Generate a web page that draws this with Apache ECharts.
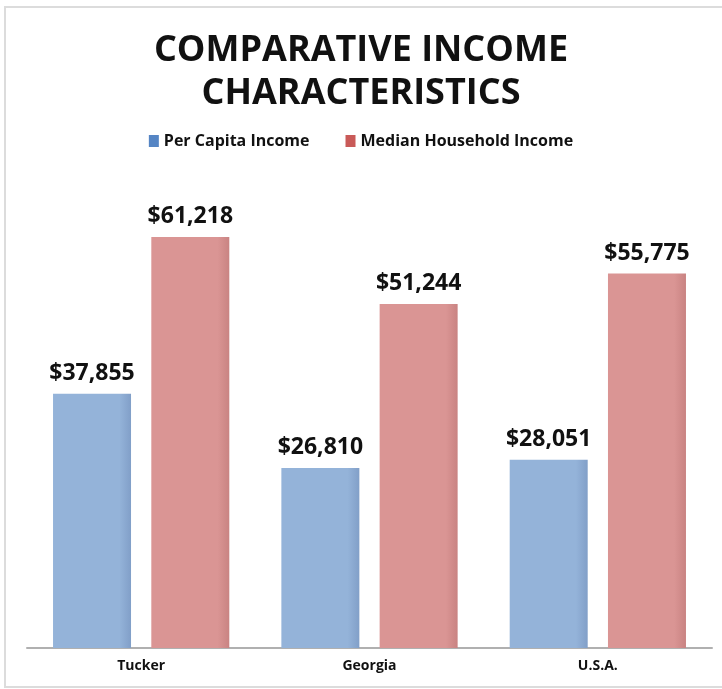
<!DOCTYPE html>
<html>
<head>
<meta charset="utf-8">
<title>Comparative Income Characteristics</title>
<script src="https://cdn.jsdelivr.net/npm/echarts@6/dist/echarts.min.js"></script>
<style>
  html, body { margin: 0; padding: 0; background: #fff; }
  #chart { width: 722px; height: 689px; }
</style>
</head>
<body>
<div id="chart"></div>
<script>
const categories = ['Tucker', 'Georgia', 'U.S.A.'];
const perCapitaIncome = [37855, 26810, 28051];
const medianHouseholdIncome = [61218, 51244, 55775];
const seriesNames = ['Per Capita Income', 'Median Household Income'];

const FONT = '"Open Sans", "Liberation Sans", sans-serif';

function money(v) {
  return '$' + v.toLocaleString('en-US');
}

function barFill(light, dark) {
  return new echarts.graphic.LinearGradient(0, 0, 1, 0, [
    { offset: 0, color: light },
    { offset: 0.85, color: light },
    { offset: 1, color: dark }
  ]);
}

const chart = echarts.init(document.getElementById('chart'), null, { renderer: 'canvas' });

const valueLabel = {
  show: true,
  position: 'top',
  distance: 9,
  formatter: p => money(p.value),
  fontFamily: FONT,
  fontWeight: 'bold',
  fontSize: 23,
  color: '#111'
};

chart.setOption({
  animation: false,
  backgroundColor: '#fff',
  graphic: [{
    type: 'rect',
    shape: { x: 5, y: 7, width: 740, height: 680 },
    style: { fill: 'none', stroke: '#dcdcdc', lineWidth: 2 },
    silent: true
  }],
  title: {
    text: 'COMPARATIVE INCOME\nCHARACTERISTICS',
    left: 'center',
    top: 24,
    textStyle: {
      fontFamily: FONT,
      fontWeight: 'bold',
      fontSize: 36,
      lineHeight: 43,
      color: '#111'
    }
  },
  legend: {
    top: 128,
    left: 'center',
    itemWidth: 10,
    itemHeight: 12,
    itemGap: 36,
    icon: 'rect',
    textStyle: {
      fontFamily: FONT,
      fontWeight: 'bold',
      fontSize: 16,
      color: '#111'
    },
    data: [
      { name: seriesNames[0], itemStyle: { color: '#5585c4' } },
      { name: seriesNames[1], itemStyle: { color: '#c95a58' } }
    ]
  },
  grid: { left: 27, right: 10, top: 178, bottom: 41 },
  xAxis: {
    type: 'category',
    data: categories,
    axisLine: { lineStyle: { color: '#b0b0b0', width: 2 } },
    axisTick: { show: false },
    axisLabel: {
      margin: 11,
      fontFamily: FONT,
      fontWeight: 'bold',
      fontSize: 14,
      color: '#111'
    }
  },
  yAxis: {
    type: 'value',
    min: 0,
    max: 70000,
    show: false,
    splitLine: { show: false }
  },
  series: [
    {
      name: seriesNames[0],
      type: 'bar',
      data: perCapitaIncome,
      barWidth: 78,
      barGap: '26%',
      itemStyle: { color: barFill('#94b3d9', '#819fc8') },
      label: valueLabel
    },
    {
      name: seriesNames[1],
      type: 'bar',
      data: medianHouseholdIncome,
      barWidth: 78,
      itemStyle: { color: barFill('#da9594', '#c98382') },
      label: valueLabel
    }
  ]
});
</script>
</body>
</html>
